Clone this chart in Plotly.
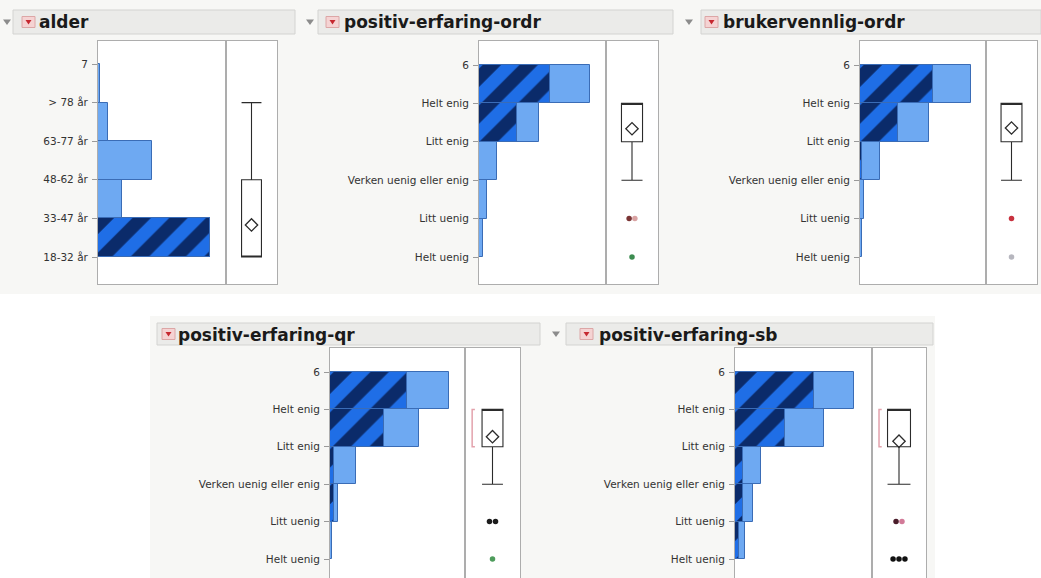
import plotly.graph_objects as go

W, H = 1041, 578

# ---------------- data ----------------
alder_levels = ["18-32 år", "33-47 år", "48-62 år", "63-77 år", "> 78 år", "7"]
likert_levels = ["Helt uenig", "Litt uenig", "Verken uenig eller enig",
                 "Litt enig", "Helt enig", "6"]

# counts per level (levels 1..5), all rows and the selected rows
alder_counts = [56, 12, 27, 5, 1]
alder_selected = [56, 0, 0, 0, 0]
ordr_counts = [2, 4, 9, 30, 56]
ordr_selected = [0, 0, 0, 19, 36]
bruker_counts = [1, 2, 10, 35, 56]
bruker_selected = [0, 0, 1, 19, 37]
qr_counts = [1, 4, 13, 45, 60]
qr_selected = [0, 2, 2, 27, 39]
sb_counts = [5, 9, 13, 45, 60]
sb_selected = [2, 4, 4, 25, 40]

# outlier box plot summaries: q1, median, q3, lower whisker, upper whisker, mean
alder_box = [1, 1, 3, 1, 5, 1.83]
ordr_box = [4, 5, 5, 3, 5, 4.34]
bruker_box = [4, 5, 5, 3, 5, 4.36]
qr_box = [4, 5, 5, 3, 5, 4.27]
sb_box = [4, 5, 5, 3, 5, 4.15]

# outlying points and their row colours
alder_outliers, alder_outlier_colors = [], []
ordr_outliers = [2, 2, 1]
ordr_outlier_colors = ["#7a3434", "#d9a3a3", "#3c8c50"]
bruker_outliers = [2, 1]
bruker_outlier_colors = ["#c8323f", "#b6b6be"]
qr_outliers = [2, 2, 1]
qr_outlier_colors = ["#1c1c1c", "#1c1c1c", "#4e9c5c"]
sb_outliers = [2, 2, 1, 1, 1]
sb_outlier_colors = ["#4a1c2a", "#d27a98", "#111111", "#111111", "#111111"]

# shortest half
qr_short_half = [4, 5]
sb_short_half = [4, 5]

titles = ["alder", "positiv-erfaring-ordr", "brukervennlig-ordr",
          "positiv-erfaring-qr", "positiv-erfaring-sb"]

# ---------------- styling ----------------
LIGHT = "#6ea9f2"
EDGE = "#3a6cb6"
HATCH_BG = "#1f6ee6"
HATCH_FG = "#0b2b6a"
FRAME = "#adadad"
TEXT = "#333333"
PANEL_BG = "#f7f7f5"

panels = [
    dict(levels=alder_levels, counts=alder_counts, sel=alder_selected, box=alder_box,
         out=alder_outliers, outc=alder_outlier_colors, half=None,
         hist=(98, 226), bx=(226, 277), top=41, bottom=284, t6=64, t1=257,
         xmax=64, boxw=0.78,
         bar=(13, 295, 10, 34), tri=7, icon=22, text=37),
    dict(levels=likert_levels, counts=ordr_counts, sel=ordr_selected, box=ordr_box,
         out=ordr_outliers, outc=ordr_outlier_colors, half=None,
         hist=(479, 606), bx=(606, 658), top=41, bottom=284, t6=65, t1=257,
         xmax=64, boxw=0.81,
         bar=(318, 673, 10, 34), tri=310, icon=326, text=342),
    dict(levels=likert_levels, counts=bruker_counts, sel=bruker_selected, box=bruker_box,
         out=bruker_outliers, outc=bruker_outlier_colors, half=None,
         hist=(860, 986), bx=(986, 1037), top=41, bottom=284, t6=65, t1=257,
         xmax=63.6, boxw=0.82,
         bar=(701, 1041, 10, 34), tri=689, icon=705, text=721),
    dict(levels=likert_levels, counts=qr_counts, sel=qr_selected, box=qr_box,
         out=qr_outliers, outc=qr_outlier_colors, half=qr_short_half,
         hist=(330, 465), bx=(465, 520), top=348, bottom=578, t6=372, t1=559,
         xmax=68, boxw=0.76,
         bar=(157, 540, 323, 345), tri=None, icon=162, text=176),
    dict(levels=likert_levels, counts=sb_counts, sel=sb_selected, box=sb_box,
         out=sb_outliers, outc=sb_outlier_colors, half=sb_short_half,
         hist=(735, 872), bx=(872, 926), top=348, bottom=578, t6=372, t1=559,
         xmax=69, boxw=0.85,
         bar=(566, 933, 323, 345), tri=556, icon=580, text=597),
]


def fx(p):
    return p / W


def fy(p):
    return 1 - p / H


fig = go.Figure()
layout = {}
shapes = []
annotations = []

# page backgrounds behind the report panels
shapes.append(dict(type="rect", xref="paper", yref="paper", layer="below",
                   x0=fx(0), x1=fx(W), y0=fy(294), y1=fy(0),
                   fillcolor=PANEL_BG, line=dict(width=0)))
shapes.append(dict(type="rect", xref="paper", yref="paper", layer="below",
                   x0=fx(150), x1=fx(935), y0=fy(H), y1=fy(316),
                   fillcolor=PANEL_BG, line=dict(width=0)))

for i, p in enumerate(panels):
    hn, bn = 2 * i + 1, 2 * i + 2
    hx = "x" if hn == 1 else f"x{hn}"
    hy = "y" if hn == 1 else f"y{hn}"
    bxn, byn = f"x{bn}", f"y{bn}"

    ppl = (p["t1"] - p["t6"]) / 5.0
    y_hi = 6 + (p["t6"] - p["top"]) / ppl
    y_lo = 1 - (p["bottom"] - p["t1"]) / ppl
    ydom = [max(0.0, fy(p["bottom"])), fy(p["top"])]
    bottom_row = p["bottom"] >= H

    # white plotting frames
    shapes.append(dict(type="rect", xref="paper", yref="paper", layer="below",
                       x0=fx(p["hist"][0]), x1=fx(p["bx"][1]), y0=ydom[0], y1=ydom[1],
                       fillcolor="white", line=dict(width=0)))

    # histogram: bar for level k spans k .. k+1
    levels_num = list(range(1, 6))
    centres = [k + 0.5 for k in levels_num]
    fig.add_trace(go.Bar(
        x=p["counts"], y=centres, orientation="h", width=1,
        marker=dict(color=LIGHT, line=dict(color=EDGE, width=1)),
        xaxis=hx, yaxis=hy, showlegend=False, hoverinfo="skip"))
    fig.add_trace(go.Bar(
        x=p["sel"], y=centres, orientation="h", width=1,
        marker=dict(color=HATCH_BG, line=dict(color=EDGE, width=1),
                    pattern=dict(shape="/", fgcolor=HATCH_FG, bgcolor=HATCH_BG,
                                 size=26, solidity=0.5, fillmode="replace")),
        xaxis=hx, yaxis=hy, showlegend=False, hoverinfo="skip"))

    # box plot
    q1, med, q3, lo, hi, mean = p["box"]
    fig.add_trace(go.Box(
        x=[0], q1=[q1], median=[med], q3=[q3], lowerfence=[lo], upperfence=[hi],
        orientation="v", width=p["boxw"], whiskerwidth=1,
        fillcolor="rgba(255,255,255,0)", line=dict(color="#2b2b2b", width=1.1),
        boxpoints=False, xaxis=bxn, yaxis=byn, showlegend=False, hoverinfo="skip"))
    fig.add_trace(go.Scatter(
        x=[0], y=[mean], mode="markers",
        marker=dict(symbol="diamond-open", size=9.5, color="#2b2b2b",
                    line=dict(width=1.3, color="#2b2b2b")),
        xaxis=bxn, yaxis=byn, showlegend=False, hoverinfo="skip"))

    if p["out"]:
        xs = []
        for j, v in enumerate(p["out"]):
            same = [k for k, w in enumerate(p["out"]) if w == v]
            pos = same.index(j)
            xs.append((pos - (len(same) - 1) / 2) * 0.22)
        fig.add_trace(go.Scatter(
            x=xs, y=p["out"], mode="markers",
            marker=dict(size=5.5, color=p["outc"], line=dict(width=0)),
            xaxis=bxn, yaxis=byn, showlegend=False, hoverinfo="skip"))

    if p["half"]:
        a, b = p["half"]
        fig.add_trace(go.Scatter(
            x=[-0.64, -0.74, -0.74, -0.64], y=[b, b, a, a], mode="lines",
            line=dict(color="#e3a2ac", width=1.5),
            xaxis=bxn, yaxis=byn, showlegend=False, hoverinfo="skip"))

    xline = dict(showline=True, linecolor=FRAME, linewidth=1)
    if bottom_row:
        xline.update(side="top", mirror=False)
    else:
        xline.update(mirror=True)

    common_x = dict(showgrid=False, zeroline=False, showticklabels=False,
                    ticks="", fixedrange=True, **xline)
    layout["xaxis" if hn == 1 else f"xaxis{hn}"] = dict(
        domain=[fx(p["hist"][0]), fx(p["hist"][1])], range=[0, p["xmax"]],
        anchor=hy, **common_x)
    layout[f"xaxis{bn}"] = dict(
        domain=[fx(p["bx"][0]), fx(p["bx"][1])], range=[-1, 1],
        anchor=byn, **common_x)

    layout["yaxis" if hn == 1 else f"yaxis{hn}"] = dict(
        domain=ydom, range=[y_lo, y_hi], anchor=hx,
        tickmode="array", tickvals=[1, 2, 3, 4, 5, 6], ticktext=p["levels"],
        ticks="outside", ticklen=5, tickcolor="#9a9a9a", tickwidth=1,
        ticklabelstandoff=2,
        tickfont=dict(family="DejaVu Sans", size=10.5, color=TEXT),
        showline=True, mirror=True, linecolor=FRAME, linewidth=1,
        showgrid=False, zeroline=False, fixedrange=True)
    layout[f"yaxis{bn}"] = dict(
        domain=ydom, range=[y_lo, y_hi], anchor=bxn,
        showticklabels=False, ticks="",
        showline=True, mirror=True, linecolor=FRAME, linewidth=1,
        showgrid=False, zeroline=False, fixedrange=True)

    # header bar with outline triangle, red popup icon and title
    bx0, bx1, by0, by1 = p["bar"]
    mid = (by0 + by1) / 2
    shapes.append(dict(type="rect", xref="paper", yref="paper", layer="below",
                       x0=fx(bx0), x1=fx(bx1), y0=fy(by1), y1=fy(by0),
                       fillcolor="#ebebe9", line=dict(color="#d3d3d1", width=1)))
    if p["tri"] is not None:
        t = p["tri"]
        shapes.append(dict(type="path", xref="paper", yref="paper",
                           path=f"M {fx(t - 4)} {fy(mid - 2.5)} L {fx(t + 4)} {fy(mid - 2.5)} "
                                f"L {fx(t)} {fy(mid + 3)} Z",
                           fillcolor="#8c8c8c", line=dict(width=0)))
    ic = p["icon"]
    shapes.append(dict(type="rect", xref="paper", yref="paper",
                       x0=fx(ic), x1=fx(ic + 13), y0=fy(mid + 5.5), y1=fy(mid - 5.5),
                       fillcolor="#f5d3d3", line=dict(color="#dca6a6", width=1)))
    shapes.append(dict(type="path", xref="paper", yref="paper",
                       path=f"M {fx(ic + 3.5)} {fy(mid - 2)} L {fx(ic + 9.5)} {fy(mid - 2)} "
                            f"L {fx(ic + 6.5)} {fy(mid + 2.5)} Z",
                       fillcolor="#c62830", line=dict(width=0)))
    annotations.append(dict(
        text=titles[i], xref="paper", yref="paper", x=fx(p["text"]), y=fy(mid + 0.5),
        xanchor="left", yanchor="middle", showarrow=False,
        font=dict(family="DejaVu Sans", size=17, color="#1a1a1a", weight="bold")))

fig.update_layout(
    width=W, height=H, margin=dict(l=0, r=0, t=0, b=0),
    paper_bgcolor="white", plot_bgcolor="white",
    barmode="overlay", bargap=0, showlegend=False,
    shapes=shapes, annotations=annotations, **layout)

fig.write_html("out.html")
